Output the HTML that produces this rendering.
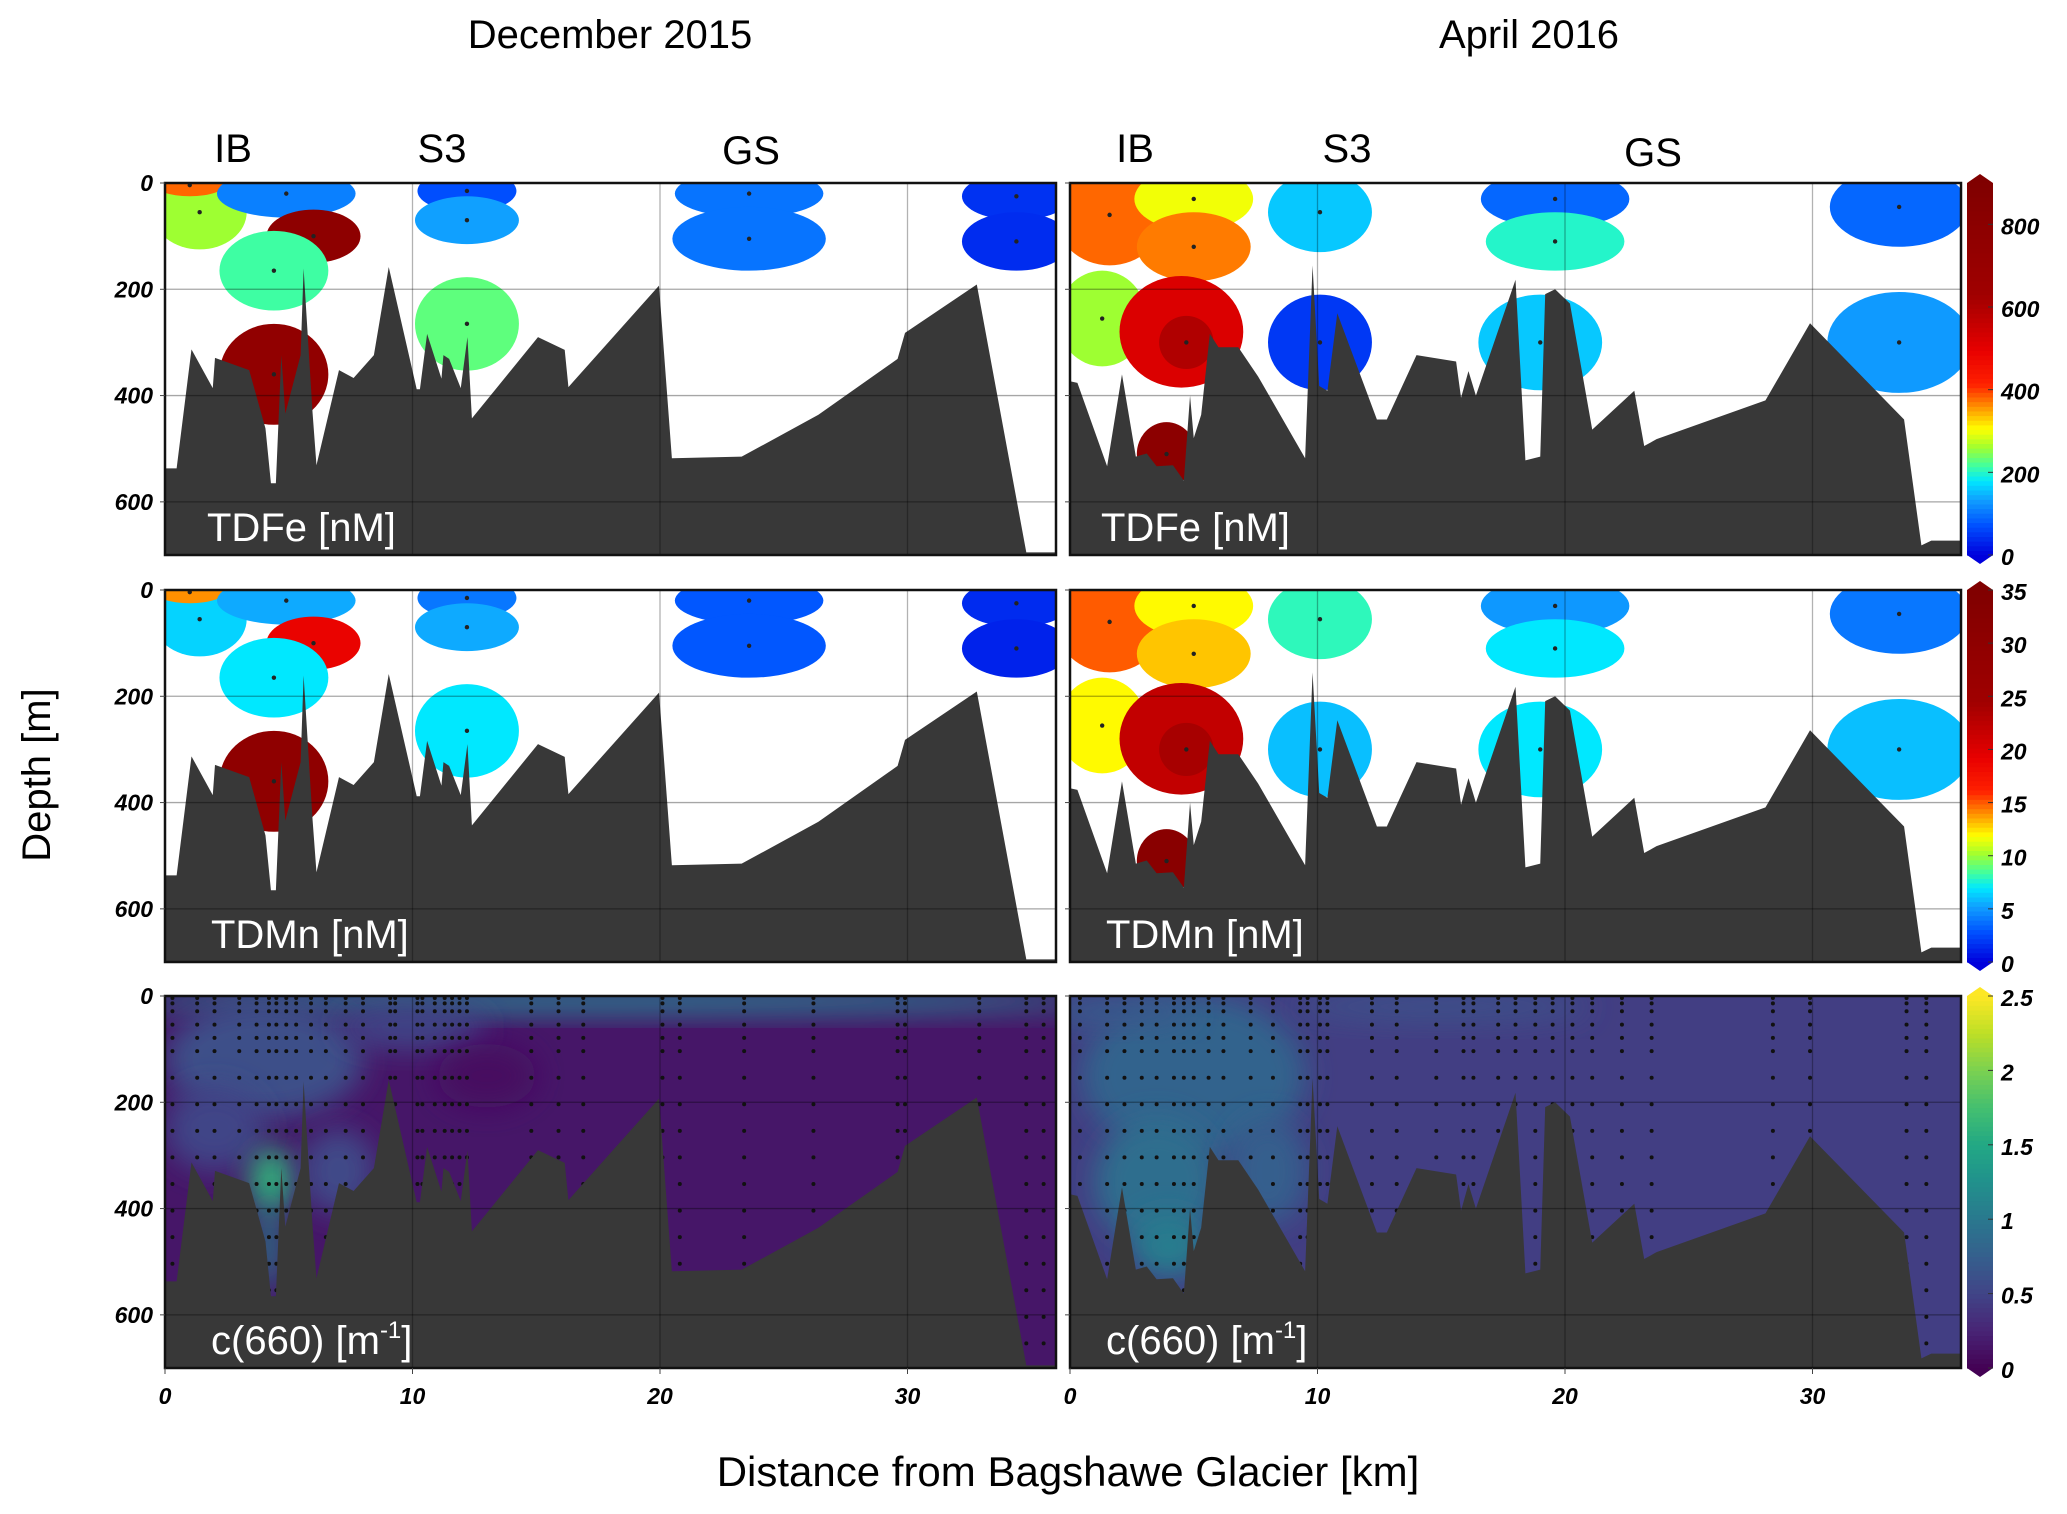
<!DOCTYPE html>
<html><head><meta charset="utf-8">
<style>
html,body{margin:0;padding:0;background:#fff;}
svg{display:block;}
.t{font-family:"Liberation Sans",sans-serif;}
.tick{font-family:"Liberation Sans",sans-serif;font-weight:bold;font-style:italic;font-size:23px;}
</style></head>
<body>
<svg id="fig" width="2067" height="1514" viewBox="0 0 2067 1514" xmlns="http://www.w3.org/2000/svg">
<defs>
<filter id="blur" x="-50%" y="-50%" width="200%" height="200%"><feGaussianBlur stdDeviation="14"/></filter>
</defs>
<text class="t" x="610" y="48" font-size="40" text-anchor="middle">December 2015</text>
<text class="t" x="1529" y="48" font-size="40" text-anchor="middle">April 2016</text>
<text class="t" x="233" y="162" font-size="40" text-anchor="middle">IB</text>
<text class="t" x="442" y="162" font-size="40" text-anchor="middle">S3</text>
<text class="t" x="751" y="164" font-size="40" text-anchor="middle">GS</text>
<text class="t" x="1135" y="162" font-size="40" text-anchor="middle">IB</text>
<text class="t" x="1347" y="162" font-size="40" text-anchor="middle">S3</text>
<text class="t" x="1653" y="166" font-size="40" text-anchor="middle">GS</text>
<text class="t" x="50" y="775" font-size="40" text-anchor="middle" transform="rotate(-90 50 775)">Depth [m]</text>
<text class="t" x="1068" y="1486" font-size="42" text-anchor="middle">Distance from Bagshawe Glacier [km]</text>
</svg>
<script>
// ---- data ----
const depthTicks = [0, 200, 400, 600];
const kmTicks = [0, 10, 20, 30];
const bathyDecKm = [0,0.47,1.07,1.93,2.02,3.4,4.06,4.28,4.48,4.7,4.86,5.48,5.6,5.96,6.12,7.03,7.62,8.44,9.04,10.17,10.3,10.59,11.17,11.25,11.48,11.95,12.22,12.4,15.07,16.15,16.3,19.96,20.48,23.3,26.4,29.6,29.9,32.8,34.8,36];
const bathyDecDepth = [537,537,313,386,329,352,462,565,565,324,434,324,161,431,531,352,367,324,158,388,388,284,368,324,331,386,290,443,290,314,384,193,518,515,436,331,282,191,695,695];
const bathyAprKm = [0,0.3,1.5,2.1,2.66,3.1,3.5,4.16,4.6,4.85,5.0,5.3,5.65,6.0,6.8,7.6,9.5,9.8,10.07,10.4,10.8,12.4,12.8,14.0,15.6,15.8,16.1,16.4,18.0,18.4,19.0,19.2,19.6,20.2,21.1,22.8,23.2,23.7,28.1,29.9,33.7,34.4,34.8,36];
const bathyAprDepth = [373,376,533,360,515,509,533,531,560,400,480,436,284,309,309,364,518,155,382,391,245,445,445,324,336,404,354,400,182,522,515,209,200,227,464,391,495,482,409,264,445,682,673,673];

// blobs for TDFe / TDMn (km, depth, half-width km, half-height m, values)
const decBlobKm    = [1.4, 1.0, 4.9, 6.0, 4.4, 4.4, 12.2, 12.2, 12.2, 23.6, 23.6, 34.4, 34.4];
const decBlobDepth = [55, 0, 20, 100, 165, 360, 15, 70, 265, 20, 105, 25, 110];
const decBlobRx    = [1.9, 1.5, 2.8, 1.9, 2.2, 2.2, 2.0, 2.1, 2.1, 3.0, 3.1, 2.2, 2.2];
const decBlobRy    = [70, 25, 45, 50, 75, 95, 40, 45, 88, 45, 60, 45, 55];
const decFe        = [260, 380, 110, 780, 215, 760, 70, 135, 230, 100, 100, 45, 40];
const decMn        = [6.5, 14, 5.5, 19, 7, 30, 4, 5.5, 7, 3, 3, 1.5, 1.2];

const aprBlobKm    = [1.6, 5.0, 5.0, 1.3, 4.5, 4.7, 3.9, 10.1, 10.1, 19.6, 19.6, 19.0, 33.5, 33.5];
const aprBlobDepth = [60, 30, 120, 255, 280, 300, 510, 55, 300, 30, 110, 300, 45, 300];
const aprBlobRx    = [2.2, 2.4, 2.3, 1.8, 2.5, 1.1, 1.2, 2.1, 2.1, 3.0, 2.8, 2.5, 2.8, 2.9];
const aprBlobRy    = [95, 60, 65, 90, 105, 50, 60, 75, 90, 55, 55, 90, 75, 95];
const aprFe        = [380, 300, 370, 260, 520, 600, 800, 160, 50, 90, 200, 160, 90, 130];
const aprMn        = [15, 12, 13, 12, 22, 24, 32, 8, 6, 5, 7, 7, 4, 6];

// c(660) patches
const decCBase = 0.15;
const decCKm    = [18, 4, 2, 4.3, 4.2, 10, 13, 7];
const decCDepth = [10, 120, 250, 345, 470, 60, 150, 330];
const decCRx    = [20, 4, 2, 0.9, 0.4, 3, 2, 1.5];
const decCRy    = [25, 110, 80, 60, 90, 40, 60, 80];
const decCVal   = [1.0, 0.6, 0.5, 1.6, 1.2, 0.5, 0.1, 0.55];
const aprCBase = 0.45;
const aprCKm    = [5, 3.5, 4.0, 8, 15, 2];
const aprCDepth = [150, 350, 470, 330, 20, 30];
const aprCRx    = [4.5, 2.5, 1.5, 1.6, 6, 3];
const aprCRy    = [150, 120, 60, 100, 30, 30];
const aprCVal   = [0.8, 0.9, 1.05, 0.75, 0.6, 0.7];

// sampling stations for c(660)
const decStations = [0.3,1.3,2.0,3.0,3.7,4.2,4.5,4.9,5.3,5.9,6.5,7.3,8.0,9.1,9.3,10.2,10.4,10.9,11.3,11.6,11.9,12.2,14.8,15.9,16.9,20.1,20.8,23.4,26.2,29.6,29.9,32.9,34.8,35.5];
const aprStations = [0.4,1.5,2.2,2.9,3.5,4.2,4.6,5.0,5.6,6.2,7.3,8.2,9.3,9.6,10.1,10.4,12.2,13.2,14.8,15.9,16.3,17.3,18.0,18.8,19.5,20.3,21.1,22.3,23.5,28.4,29.9,33.8,34.6];
const sampleDepths = [0,10,25,50,75,100,150,200,250,300,350,400,450,500,550,600,650];

// colorbar ticks
const feTicks = [0,200,400,600,800];
const mnTicks = [0,5,10,15,20,25,30,35];
const cTicks = [0,0.5,1,1.5,2,2.5];
const cTickLabels = ["0","0.5","1","1.5","2","2.5"];

// ---- geometry ----
const NS = "http://www.w3.org/2000/svg";
const svg = document.getElementById('fig');
const colX = [165, 1070];
const rowY = [183, 590, 996];
const PW = 891, PH = 372, KMPX = 24.75, MAXD = 700;
function xS(col, km){ return colX[col] + km*KMPX; }
function yS(row, d){ return rowY[row] + d*PH/MAXD; }
function el(tag, attrs, parent){ const e=document.createElementNS(NS,tag); for(const k in attrs) e.setAttribute(k,attrs[k]); (parent||svg).appendChild(e); return e; }

const jetStops = [[0,[0,0,220]],[0.08,[0,80,255]],[0.15,[16,160,255]],[0.2,[0,232,255]],[0.24,[64,255,160]],[0.29,[160,255,48]],[0.34,[255,255,0]],[0.40,[255,144,0]],[0.46,[255,32,0]],[0.55,[232,0,0]],[0.7,[160,0,0]],[1,[128,0,0]]];
const virStops = [[0,[68,1,84]],[0.1,[72,36,117]],[0.2,[65,68,135]],[0.3,[53,95,141]],[0.4,[42,120,142]],[0.5,[33,145,140]],[0.6,[34,168,132]],[0.7,[68,191,112]],[0.8,[122,209,81]],[0.9,[189,223,38]],[1,[253,231,37]]];
function cmap(stops,t){ t=Math.max(0,Math.min(1,t)); for(let i=1;i<stops.length;i++){ if(t<=stops[i][0]){ const a=stops[i-1],b=stops[i]; const f=(t-a[0])/(b[0]-a[0]); const c=a[1].map((v,j)=>Math.round(v+(b[1][j]-v)*f)); return `rgb(${c[0]},${c[1]},${c[2]})`; } } const c=stops[stops.length-1][1]; return `rgb(${c[0]},${c[1]},${c[2]})`; }

function clipFor(row,col){
  const id=`clip-${row}-${col}`;
  const cp=el('clipPath',{id:id});
  el('rect',{x:colX[col],y:rowY[row],width:PW,height:PH},cp);
  return `url(#${id})`;
}

function drawPanel(row,col,name){
  const g=el('g',{'clip-path':clipFor(row,col)});
  
  
  const dec = col===0;
  if(row<2){
    const km=dec?decBlobKm:aprBlobKm, dp=dec?decBlobDepth:aprBlobDepth, rx=dec?decBlobRx:aprBlobRx, ry=dec?decBlobRy:aprBlobRy;
    const vals = row===0 ? (dec?decFe:aprFe) : (dec?decMn:aprMn);
    const vmax = row===0 ? 900 : 35;
    for(let i=0;i<km.length;i++){
      const e=el('ellipse',{cx:xS(col,km[i]),cy:yS(row,dp[i]),rx:rx[i]*KMPX,ry:ry[i]*PH/MAXD,fill:cmap(jetStops,vals[i]/vmax)},g);
      
      
      el('circle',{cx:xS(col,km[i]),cy:yS(row,Math.max(dp[i],4)),r:2.2,fill:'#222'},g);
    }
  } else {
    const base=dec?decCBase:aprCBase;
    el('rect',{x:colX[col],y:rowY[row],width:PW,height:PH,fill:cmap(virStops,base/2.5)},g);
    const km=dec?decCKm:aprCKm, dp=dec?decCDepth:aprCDepth, rx=dec?decCRx:aprCRx, ry=dec?decCRy:aprCRy, v=dec?decCVal:aprCVal;
    for(let i=0;i<km.length;i++){
      const e=el('ellipse',{cx:xS(col,km[i]),cy:yS(row,dp[i]),rx:rx[i]*KMPX,ry:ry[i]*PH/MAXD,fill:cmap(virStops,v[i]/2.5),filter:'url(#blur)'},g);
      
      
    }
    const st=dec?decStations:aprStations;
    for(const s of st){
      for(const d of sampleDepths){
        el('circle',{cx:xS(col,s),cy:yS(row,d)+2,r:2,fill:'#111'},g);
      }
    }
  }
  // bathymetry
  const bk=dec?bathyDecKm:bathyAprKm, bd=dec?bathyDecDepth:bathyAprDepth;
  let pts=[]; for(let i=0;i<bk.length;i++) pts.push(xS(col,bk[i])+','+yS(row,bd[i]));
  pts.push(xS(col,36.2)+','+yS(row,MAXD+5)); pts.push(xS(col,-0.2)+','+yS(row,MAXD+5)); pts.push(xS(col,-0.2)+','+yS(row,bd[0]));
  const bp=el('polygon',{points:pts.join(' '),fill:'#383838'},g);
  
  
  // grid
  for(const d of [200,400,600]) el('line',{x1:colX[col],x2:colX[col]+PW,y1:yS(row,d),y2:yS(row,d),stroke:'rgba(0,0,0,0.35)','stroke-width':1.3},g);
  for(const k of [10,20,30]) el('line',{x1:xS(col,k),x2:xS(col,k),y1:rowY[row],y2:rowY[row]+PH,stroke:'rgba(0,0,0,0.3)','stroke-width':1.3},g);
  const fr=el('rect',{x:colX[col],y:rowY[row],width:PW,height:PH,fill:'none',stroke:'#111','stroke-width':2.5});
  
  
  // y ticks
  for(const d of depthTicks){
    el('line',{x1:colX[col]-5,x2:colX[col],y1:yS(row,d),y2:yS(row,d),stroke:'#444','stroke-width':1});
    if(col===0){
      const t=el('text',{x:colX[col]-12,y:yS(row,d)+8,'text-anchor':'end',class:'tick'});
      t.textContent=d;
      
      
    }
  }
  if(row===2){
    for(const k of kmTicks){
      el('line',{x1:xS(col,k),x2:xS(col,k),y1:rowY[row]+PH,y2:rowY[row]+PH+6,stroke:'#444','stroke-width':1});
      const t=el('text',{x:xS(col,k),y:rowY[row]+PH+36,'text-anchor':'middle',class:'tick'});
      t.textContent=k;
      
      
    }
  }
  // panel label
  const lx = col===0 ? (row===0?207:211) : (row===0?1101:1106);
  const lab=el('text',{x:lx,y:rowY[row]+PH-14,fill:'#fff',class:'t','font-size':40});
  if(row===0) lab.textContent='TDFe [nM]';
  else if(row===1) lab.textContent='TDMn [nM]';
  else { lab.textContent='c(660) [m'; const ts=el('tspan',{'font-size':24,dy:-16},lab); ts.textContent='-1'; const ts2=el('tspan',{dy:16},lab); ts2.textContent=']'; }
  
  
}

const names=[['tdfe-dec','tdfe-apr'],['tdmn-dec','tdmn-apr'],['c660-dec','c660-apr']];
for(let r=0;r<3;r++) for(let c=0;c<2;c++) drawPanel(r,c,names[r][c]);

// colorbars
function colorbar(row, stops, vmax, ticks, labels, name){
  const x=1967, w=26, y0=rowY[row], h=PH;
  const g=el('g',{});
  
  
  const n=80;
  for(let i=0;i<n;i++){
    el('rect',{x:x,y:y0+h-(i+1)*h/n,width:w,height:h/n+0.6,fill:cmap(stops,(i+0.5)/n)},g);
  }
  el('polygon',{points:`${x},${y0} ${x+w/2},${y0-9} ${x+w},${y0}`,fill:cmap(stops,1)},g);
  el('polygon',{points:`${x},${y0+h} ${x+w/2},${y0+h+9} ${x+w},${y0+h}`,fill:cmap(stops,0)},g);
  for(let i=0;i<ticks.length;i++){
    const yy=y0+h-ticks[i]/vmax*h;
    el('line',{x1:x+w-5,x2:x+w,y1:yy,y2:yy,stroke:'#333','stroke-width':1},g);
    const t=el('text',{x:x+w+8,y:yy+10,class:'tick','font-size':27},g);
    t.textContent=labels[i];
    
    
  }
}
colorbar(0, jetStops, 900, feTicks, feTicks.map(String), 'tdfe-colorbar');
colorbar(1, jetStops, 35, mnTicks, mnTicks.map(String), 'tdmn-colorbar');
colorbar(2, virStops, 2.5, cTicks, cTickLabels, 'c660-colorbar');
</script>
</body></html>
